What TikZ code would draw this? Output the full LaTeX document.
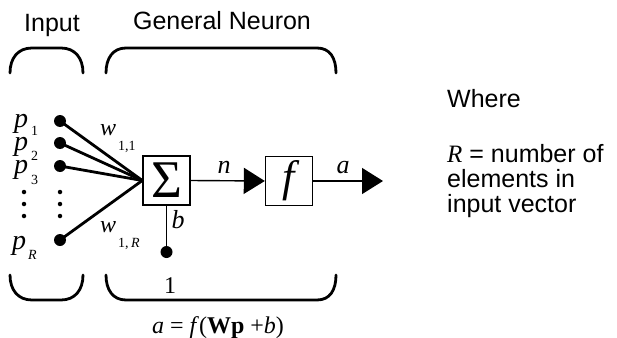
\documentclass[tikz,border=0pt]{standalone}
\usepackage{fontspec}
\setmainfont{Liberation Serif}
\setsansfont{Liberation Sans}
\usetikzlibrary{arrows.meta}
\begin{document}
\begin{tikzpicture}[x=1pt,y=-1pt,
  brk/.style={line width=2.8pt, line cap=round},
  blk/.style={draw, line width=1.4pt, minimum width=47pt, minimum height=49pt, inner sep=0pt},
  bigdot/.style={circle, fill, inner sep=0pt, minimum size=12pt},
  smalldot/.style={circle, fill, inner sep=0pt, minimum size=4.5pt},
  wire/.style={line width=2.8pt},
  sig/.style={line width=1.4pt},
  tip/.style={-{Triangle[length=21pt,width=26pt]}},
  sans/.style={font=\fontsize{25}{30}\selectfont\sffamily, inner sep=0pt},
  ital/.style={font=\fontsize{26}{30}\selectfont\itshape, inner sep=0pt, anchor=base},
  plab/.style={font=\fontsize{28}{30}\selectfont\itshape, inner sep=0pt, anchor=base west},
  wlab/.style={font=\fontsize{24}{30}\selectfont\itshape, inner sep=0pt, anchor=base west},
  slab/.style={font=\fontsize{14}{16}\selectfont, inner sep=0pt, anchor=base west}
]
\useasboundingbox (0,0) rectangle (617,337);

% titles
\node[sans, anchor=base] (tin) at (52,31) {Input};
\node[sans, anchor=base] (tgen) at (222,30) {General Neuron};

% brackets
\draw[brk] (10,73) .. controls (10,58) and (18,48) .. (32,48) -- (61,48) .. controls (75,48) and (83,58) .. (83,73);
\draw[brk] (106,73) .. controls (106,58) and (113,48) .. (126,48) -- (317,48) .. controls (330,48) and (336,58) .. (336,73);
\draw[brk] (10,275) .. controls (10,290) and (18,300) .. (32,300) -- (61,300) .. controls (75,300) and (83,290) .. (83,275);
\draw[brk] (106,275) .. controls (106,290) and (113,300) .. (126,300) -- (317,300) .. controls (330,300) and (336,290) .. (336,275);

% blocks
\node[blk] (sum) at (166.5,180.5) {\fontsize{53}{53}\selectfont Σ};
\node[blk] (fb) at (289,181) {\fontsize{44}{44}\selectfont\itshape f};

% input dots
\node[bigdot] (d1) at (60,121) {};
\node[bigdot] (d2) at (60,143) {};
\node[bigdot] (d3) at (60,166) {};
\node[bigdot] (dR) at (60,240) {};
\node[bigdot] (one) at (166.5,252) {};

% vertical ellipses
\node[smalldot] (e1) at (24,192) {};
\node[smalldot] (e2) at (24,204) {};
\node[smalldot] (e3) at (24,216) {};
\node[smalldot] (f1) at (60,192) {};
\node[smalldot] (f2) at (60,204) {};
\node[smalldot] (f3) at (60,216) {};

% wires
\draw[wire] (d1.center) -- (sum.west);
\draw[wire] (d2.center) -- (sum.west);
\draw[wire] (d3.center) -- (sum.west);
\draw[wire] (dR.center) -- (sum.west);
\draw[sig] (sum.south) -- (one.center);
\draw[sig, tip] (sum.east) -- (fb.west);
\coordinate (out) at (383,181);
\draw[sig, tip] (fb.east) -- (out);

% input labels
\node[plab] (lp1) at (14,127) {p};
\node[slab] (sp1) at (31,135) {1};
\node[plab] (lp2) at (14,150) {p};
\node[slab] (sp2) at (31,160) {2};
\node[plab] (lp3) at (14,173) {p};
\node[slab] (sp3) at (31,184) {3};
\node[plab] (lpR) at (12,249) {p};
\node[slab] (spR) at (28,259) {\itshape R};

% weight labels
\node[wlab] (w11) at (100,135) {w};
\node[slab] (s11) at (118,150) {1,1};
\node[wlab] (w1R) at (100,232) {w};
\node[slab] (s1R) at (118,247) {1,\,\textit{R}};

% signal labels
\node[ital] (lb) at (178,228) {b};
\node[ital] (ln) at (224,173) {n};
\node[ital] (la) at (343,173) {a};
\node[font=\fontsize{24}{28}\selectfont, inner sep=0pt, anchor=base] (l1) at (170,293) {1};
\node[font=\fontsize{24}{28}\selectfont, inner sep=0pt, anchor=base] (eq) at (218,333) {\textit{a} = \textit{f}(\textbf{Wp} +\textit{b})};

% legend
\node[sans, anchor=base west] (wh) at (447,107) {Where};
\node[sans, anchor=base west] (r1) at (447,162) {{\rmfamily\itshape R} = number of};
\node[sans, anchor=base west] (r2) at (447,187) {elements in};
\node[sans, anchor=base west] (r3) at (447,212) {input vector};
\end{tikzpicture}
\end{document}
